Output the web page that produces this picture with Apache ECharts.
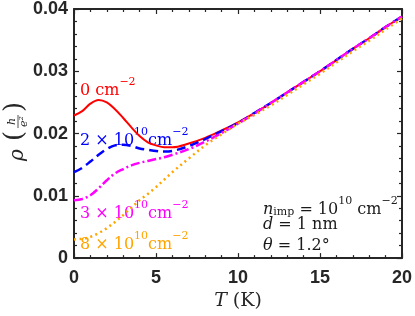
<!DOCTYPE html>
<html>
<head>
<meta charset="utf-8">
<script src="https://cdn.jsdelivr.net/npm/echarts@6/dist/echarts.min.js"></script>
<style>
html,body{margin:0;padding:0;background:#fff;}
#chart{width:415px;height:316px;}
</style>
</head>
<body>
<div id="chart"></div>
<script>
// ---- data ----
const temps = [0,0.5,1,1.5,2,2.5,3,3.5,4,4.5,5,5.5,6,7,8,9,10,11,12,13,14,15,16,17,18,19,20];
const rho0  = [0.0229,0.0236,0.0248,0.0254,0.0250,0.0239,0.0225,0.0210,0.0196,0.0186,0.0181,0.0178,0.0178,0.0184,0.0193,0.0205,0.0218,0.0233,0.0249,0.0266,0.0283,0.0300,0.0318,0.0336,0.0353,0.0371,0.0388];
const rho2  = [0.0138,0.0145,0.0155,0.0166,0.0175,0.0181,0.0182,0.0180,0.0176,0.0174,0.0172,0.0171,0.0172,0.0180,0.0191,0.0204,0.0217,0.0233,0.0249,0.0266,0.0283,0.0300,0.0318,0.0336,0.0353,0.0371,0.0388];
const rho3  = [0.0093,0.0095,0.0101,0.0112,0.0125,0.0136,0.0143,0.0149,0.0153,0.0156,0.0159,0.0162,0.0166,0.0175,0.0187,0.0201,0.0216,0.0232,0.0249,0.0266,0.0283,0.0300,0.0318,0.0336,0.0353,0.0371,0.0388];
const rho8  = [0.0030,0.0031,0.0034,0.0040,0.0048,0.0058,0.0069,0.0081,0.0093,0.0103,0.0114,0.0126,0.0138,0.0160,0.0181,0.0199,0.0216,0.0230,0.0245,0.0262,0.0279,0.0296,0.0314,0.0332,0.0349,0.0367,0.0385];
const xTicks = [0,5,10,15,20];
const yTicks = [0,0.01,0.02,0.03,0.04];

const pairs = arr => temps.map((t,i)=>[t,arr[i]]);
const AX = '#262626';
const MATH = 'DejaVu Serif';
const richBase = (color)=>({
  a:{fontFamily:MATH,fontSize:16,fill:color,color:color,lineHeight:22,verticalAlign:'bottom'},
  i:{fontFamily:MATH,fontSize:16,fontStyle:'italic',fill:color,color:color,lineHeight:22,verticalAlign:'bottom'},
  s:{fontFamily:MATH,fontSize:11,fill:color,color:color,lineHeight:11,verticalAlign:'top'},
  b:{fontFamily:MATH,fontSize:11,fill:color,color:color,lineHeight:11,verticalAlign:'bottom'}
});

const chart = echarts.init(document.getElementById('chart'), null, {renderer:'canvas'});

const axisCommon = {
  axisLine:{show:true,onZero:false,lineStyle:{color:AX,width:2}},
  axisTick:{show:true,inside:true,length:5,lineStyle:{color:AX,width:1.2}},
  minorTick:{show:true,splitNumber:5,length:3,lineStyle:{color:AX,width:1.2}},
  splitLine:{show:false}
};

function lineSeries(name, arr, color, type, width){
  return {
    name, type:'line', data:pairs(arr), showSymbol:false, smooth:0.35,
    lineStyle:{color, width, type}, z:2
  };
}

chart.setOption({
  animation:false,
  backgroundColor:'#fff',
  grid:{left:74,right:10,top:6,bottom:57,containLabel:false},
  xAxis:[
    Object.assign({type:'value',min:xTicks[0],max:xTicks[xTicks.length-1],interval:5,position:'bottom',
      name:'{i|T} (K)',nameLocation:'middle',nameGap:31,
      nameTextStyle:{fontFamily:MATH,fontSize:19,color:AX,rich:{i:{fontFamily:MATH,fontStyle:'italic',fontSize:19,color:AX}}},
      axisLabel:{show:true,margin:11,fontFamily:'Liberation Sans',fontWeight:'bold',fontSize:18,color:AX}
    },axisCommon),
    Object.assign({type:'value',min:xTicks[0],max:xTicks[xTicks.length-1],interval:5,position:'top',
      axisLabel:{show:false}},axisCommon)
  ],
  yAxis:[
    Object.assign({type:'value',min:yTicks[0],max:yTicks[yTicks.length-1],interval:0.01,position:'left',
      axisLabel:{show:true,margin:6,fontFamily:'Liberation Sans',fontWeight:'bold',fontSize:18,color:AX,
        formatter:v=> Math.abs(v)<1e-9 ? '0' : v.toFixed(2)}
    },axisCommon),
    Object.assign({type:'value',min:yTicks[0],max:yTicks[yTicks.length-1],interval:0.01,position:'right',
      axisLabel:{show:false}},axisCommon)
  ],
  series:[
    lineSeries('0 cm^-2', rho0, '#ff0000', 'solid', 2),
    lineSeries('2e10', rho2, '#0000ff', [9,5], 2.5),
    lineSeries('3e10', rho3, '#ff00ff', [9,3,2,3], 2.5),
    lineSeries('8e10', rho8, '#ffa500', [2,3.5], 2.5)
  ],
  graphic:[
    // y-axis title rho (h/e^2), rotated
    {type:'group',x:18,y:134,rotation:Math.PI/2,children:[
      {type:'text',x:-21,y:0,style:{text:'ρ',font:'italic 20px "DejaVu Serif"',fill:AX,align:'center',verticalAlign:'middle'}},
      {type:'text',x:-2,y:-3,style:{text:'(',font:'26px "DejaVu Serif"',fill:AX,align:'center',verticalAlign:'middle'}},
      {type:'text',x:27,y:-3,style:{text:')',font:'26px "DejaVu Serif"',fill:AX,align:'center',verticalAlign:'middle'}},
      {type:'text',x:12.5,y:-6,style:{text:'h',font:'italic 11px "DejaVu Serif"',fill:AX,align:'center',verticalAlign:'middle'}},
      {type:'line',shape:{x1:6,y1:0,x2:19,y2:0},style:{stroke:AX,lineWidth:0.8}},
      {type:'text',x:12.5,y:6,style:{text:'e²',font:'italic 11px "DejaVu Serif"',fill:AX,align:'center',verticalAlign:'middle'}}
    ]},
    // curve labels
    {type:'text',left:80,top:77,style:{text:'{a|0 cm}{s|−2}',fill:'#ff0000',rich:richBase('#ff0000')}},
    {type:'text',left:80,top:127,style:{text:'{a|2 × 10}{s|10}{a|cm}{s|−2}',fill:'#0000ff',rich:richBase('#0000ff')}},
    {type:'text',left:80,top:200,style:{text:'{a|3 × 10}{s|10}{a|cm}{s|−2}',fill:'#ff00ff',rich:richBase('#ff00ff')}},
    {type:'text',left:80,top:231,style:{text:'{a|8 × 10}{s|10}{a|cm}{s|−2}',fill:'#ffa500',rich:richBase('#ffa500')}},
    // parameter annotation
    {type:'text',left:263,top:196,style:{text:'{i|n}{b|imp}{a| = 10}{s|10}{a| cm}{s|−2}',fill:'#1a1a1a',rich:richBase('#1a1a1a')}},
    {type:'text',left:263,top:217,style:{text:'{i|d}{a| = 1 nm}',fill:'#1a1a1a',rich:richBase('#1a1a1a')}},
    {type:'text',left:263,top:238,style:{text:'{i|θ}{a| = 1.2°}',fill:'#1a1a1a',rich:richBase('#1a1a1a')}}
  ]
});
</script>
</body>
</html>
